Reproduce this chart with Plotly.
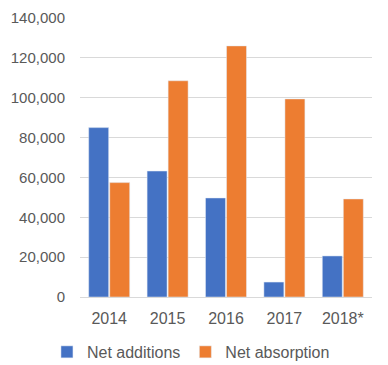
import plotly.graph_objects as go

years = ["2014", "2015", "2016", "2017", "2018*"]
net_additions = [85000, 63200, 49700, 7500, 20600]
net_absorption = [57400, 108500, 126000, 99400, 49200]
y_ticks = [0, 20000, 40000, 60000, 80000, 100000, 120000, 140000]

font_family = "Liberation Sans, Arial, sans-serif"
fig = go.Figure()
fig.add_trace(go.Bar(x=years, y=net_additions, name="Net additions", marker_color="#4472C4"))
fig.add_trace(go.Bar(x=years, y=net_absorption, name="Net absorption", marker_color="#ED7D31"))

fig.update_layout(
    width=388, height=365,
    margin=dict(l=80, r=16, t=18, b=68, autoexpand=False),
    paper_bgcolor="white", plot_bgcolor="white",
    barmode="group", bargap=0.28, bargroupgap=0.05,
    font=dict(family=font_family, size=15, color="#595959"),
    showlegend=True,
    legend=dict(orientation="h", xref="paper", yref="paper", x=0.38, xanchor="center",
                y=-0.197, yanchor="middle", font=dict(size=16, color="#595959"),
                itemwidth=30, traceorder="normal"),
    xaxis=dict(showgrid=False, showline=False, ticks="", tickfont=dict(size=16),
               automargin=False, ticklabelstandoff=10),
    yaxis=dict(range=[0, 140000], tickvals=y_ticks, tickformat=",", showgrid=True,
               gridcolor="#D9D9D9", gridwidth=1, zeroline=True, zerolinecolor="#D9D9D9",
               zerolinewidth=1, showline=False, ticks="", ticklen=0, tickfont=dict(size=15),
               automargin=False, ticklabelstandoff=14),
)
fig.write_html("out.html", config={"displayModeBar": False},
               post_script="document.body.style.margin='0';document.body.style.padding='0';")
